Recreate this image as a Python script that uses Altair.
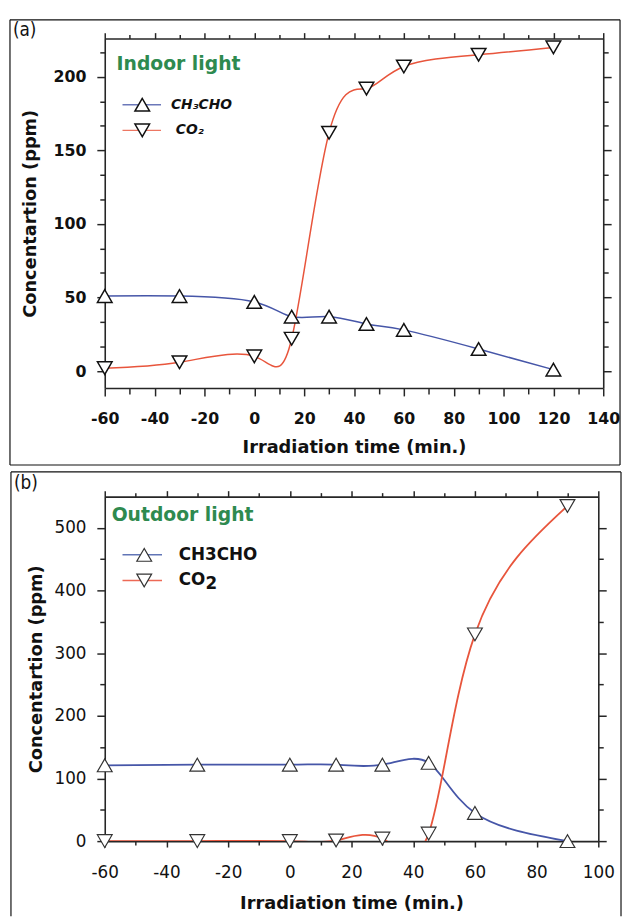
import altair as alt
import pandas as pd

# ---------------- data ----------------
series = ["CH3CHO", "CO2"]

# (a) Indoor light
t_a = [-60, -30, 0, 15, 30, 45, 60, 90, 120]
ch3cho_a = [51, 51, 47, 37, 37, 32, 28, 15, 1]
co2_a = [2, 6, 10, 22, 162, 192, 207, 215, 220]

# (b) Outdoor light
t_b = [-60, -30, 0, 15, 30, 45, 60, 90]
ch3cho_b = [121, 122, 122, 122, 122, 125, 45, 0]
co2_b = [0, 0, 0, 1, 4, 12, 330, 535]

# tick values
x_major_a = [-60, -40, -20, 0, 20, 40, 60, 80, 100, 120, 140]
x_minor_a = [-50, -30, -10, 10, 30, 50, 70, 90, 110, 130]
y_major_a = [0, 50, 100, 150, 200]
y_minor_a = [16.67, 33.33, 66.67, 83.33, 116.67, 133.33, 166.67, 183.33, 216.67]

x_major_b = [-60, -40, -20, 0, 20, 40, 60, 80, 100]
x_minor_b = [-50, -30, -10, 10, 30, 50, 70, 90]
y_major_b = [0, 100, 200, 300, 400, 500]
y_minor_b = [50, 150, 250, 350, 450]

FONT = "DejaVu Sans"
AX = "#262626"
GREEN = "#2e8a4f"


def make_panel(t, ch, co, P):
    df = pd.DataFrame({
        "t": t + t,
        "v": ch + co,
        "s": [series[0]] * len(t) + [series[1]] * len(t),
    })
    W, H = P["W"], P["H"]
    xs = alt.Scale(domain=P["xdom"], nice=False, zero=False)
    ys = alt.Scale(domain=P["ydom"], nice=False, zero=False)

    def X(axis):
        return alt.X("t:Q", scale=xs, axis=axis)

    def Y(axis):
        return alt.Y("v:Q", scale=ys, axis=axis)

    color = alt.Color("s:N", scale=alt.Scale(domain=series, range=P["colors"]), legend=None)
    shape = alt.Shape("s:N", scale=alt.Scale(domain=series, range=["triangle-up", "triangle-down"]), legend=None)

    common = dict(grid=False, domainColor=AX, domainWidth=1.6, tickColor=AX, tickWidth=1.5,
                  labelFont=FONT, labelColor="#111111", titleFont=FONT, titleColor="#111111",
                  labelOverlap=False, labelFlush=False)

    ax_bottom = alt.Axis(orient="bottom", values=P["xmaj"], labelExpr="'' + datum.value", tickSize=P["tick_x"],
                         labelFontSize=P["lfs"], labelFontWeight=P["lfw"], labelBaseline="alphabetic",
                         labelPadding=P["xlp"], title="Irradiation time (min.)", titleFontSize=18,
                         titleFontWeight="bold", titleX=W / 2, titleY=P["xty"], titleBaseline="alphabetic",
                         **common)
    ax_left = alt.Axis(orient="left", values=P["ymaj"], labelExpr="'' + datum.value", tickSize=8,
                       labelFontSize=P["lfs"], labelFontWeight=P["lfw"], labelPadding=11,
                       title="Concentartion (ppm)", titleFontSize=18, titleFontWeight="bold",
                       titleAngle=270, titleBaseline="middle", titleX=P["ytx"], titleY=H / 2,
                       **common)
    ax_bottom_minor = alt.Axis(orient="bottom", values=P["xmin"], labels=False, title=None,
                               tickSize=P["tick_x"] - 2, domain=False, **common)
    ax_left_minor = alt.Axis(orient="left", values=P["ymin"], labels=False, title=None,
                             tickSize=5, domain=False, **common)
    ax_top = alt.Axis(orient="top", values=P["xmaj"], labels=False, title=None, tickSize=6, **common)
    ax_top_minor = alt.Axis(orient="top", values=P["xmin"], labels=False, title=None, tickSize=4,
                            domain=False, **common)
    ax_right = alt.Axis(orient="right", values=P["ymaj"], labels=False, title=None, tickSize=8, **common)
    ax_right_minor = alt.Axis(orient="right", values=P["ymin"], labels=False, title=None, tickSize=5,
                              domain=False, **common)

    one = pd.DataFrame({"k": [0]})

    def rule(**enc):
        return alt.Chart(one).mark_rule(color="#111111", strokeWidth=1.2).encode(
            **{k: alt.value(v) for k, v in enc.items()})

    frame = [
        rule(x=P["fx0"], x2=P["fx1"], y=P["fy0"]),
        rule(x=P["fx0"], y=P["fy0"], y2=P["fy1"]),
        rule(x=P["fx1"], y=P["fy0"], y2=P["fy1"]),
    ]
    if P["fbottom"]:
        frame.append(rule(x=P["fx0"], x2=P["fx1"], y=P["fy1"]))

    panel_lab = alt.Chart(one).mark_text(text=P["tag"], align="left", baseline="middle",
                                         font="Liberation Sans Narrow, DejaVu Sans Condensed, sans-serif",
                                         fontSize=19, color="#111111").encode(
        x=alt.value(P["tag_x"]), y=alt.value(P["tag_y"]))

    lines = alt.Chart(df).mark_line(interpolate="natural", clip=True, strokeWidth=P["lw"]).encode(
        X(None), Y(None), color=color, detail="s:N")
    pts = alt.Chart(df).mark_point(filled=True, fill="white", stroke=P["mstroke"], strokeWidth=P["msw"],
                                   size=P["msize"], opacity=1).encode(X(None), Y(None), shape=shape)

    axes = [
        alt.Chart(df).mark_point(opacity=0).encode(X(ax_bottom), Y(ax_left)),
        alt.Chart(df).mark_point(opacity=0).encode(X(ax_bottom_minor), Y(ax_left_minor)),
        alt.Chart(df).mark_point(opacity=0).encode(X(ax_top), Y(ax_right)),
        alt.Chart(df).mark_point(opacity=0).encode(X(ax_top_minor), Y(ax_right_minor)),
    ]

    leg = [alt.Chart(one).mark_text(text=P["title"], align="left", baseline="alphabetic", font=FONT,
                                    fontSize=19, fontWeight="bold", color=GREEN).encode(
        x=alt.value(P["title_x"]), y=alt.value(P["title_y"]))]
    shapes = ["triangle-up", "triangle-down"]
    for i in range(2):
        ly = P["leg_y"][i]
        leg.append(alt.Chart(one).mark_rule(color=P["colors"][i], strokeWidth=1.5, opacity=0.8).encode(
            x=alt.value(P["leg_x0"]), x2=alt.value(P["leg_x1"]), y=alt.value(ly)))
        leg.append(alt.Chart(one).mark_point(shape=shapes[i], filled=True, fill="white",
                                             stroke=P["mstroke"], strokeWidth=P["msw"],
                                             size=P["msize"], opacity=1).encode(
            x=alt.value(P["leg_xm"]), y=alt.value(ly)))
        for (txt, dx, dy, fs) in P["leg_text"][i]:
            leg.append(alt.Chart(one).mark_text(text=txt, align="left", baseline="middle", font=FONT,
                                                fontSize=fs, fontWeight="bold",
                                                fontStyle=P["leg_style"], color="#111111").encode(
                x=alt.value(P["leg_tx"] + dx), y=alt.value(ly + dy)))

    layers = frame + [panel_lab, lines, pts] + axes + leg
    return alt.layer(*layers).resolve_axis(x="independent", y="independent").properties(width=W, height=H)


PA = dict(
    W=505, H=354, xdom=[-60, 140], ydom=[-11.5, 226],
    xmaj=x_major_a, xmin=x_minor_a, ymaj=y_major_a, ymin=y_minor_a,
    tick_x=8, lfs=16, lfw="bold", xlp=28, xty=65, ytx=-75,
    colors=["#4656a8", "#e8553c"], lw=1.5, mstroke="#111111", msw=1.5, msize=220,
    fx0=-96, fx1=522, fy0=-19, fy1=432, fbottom=True, tag="(a)", tag_x=-93, tag_y=-9,
    title="Indoor light", title_x=12, title_y=32,
    leg_y=[67, 93], leg_x0=18, leg_x1=57, leg_xm=38, leg_tx=67, leg_style="italic",
    leg_text=[[("CH\u2083CHO", 0, 0, 14)], [("CO\u2082", 5, 0, 14)]],
)

PB = dict(
    W=500, H=349, xdom=[-60, 100], ydom=[0, 550],
    xmaj=x_major_b, xmin=x_minor_b, ymaj=y_major_b, ymin=y_minor_b,
    tick_x=6, lfs=17, lfw="normal", xlp=31, xty=68, ytx=-69,
    colors=["#3a52a4", "#e8432c"], lw=1.8, mstroke="#333333", msw=1.2, msize=225,
    fx0=-95, fx1=523, fy0=-25, fy1=425, fbottom=False, tag="(b)", tag_x=-92, tag_y=-14,
    title="Outdoor light", title_x=7, title_y=25,
    leg_y=[59, 85], leg_x0=18, leg_x1=58, leg_xm=40, leg_tx=75, leg_style="normal",
    leg_text=[[("CH3CHO", 0, 0, 17)], [("CO", 0, 0, 17), ("2", 27, 4, 17)]],
)

pa = make_panel(t_a, ch3cho_a, co2_a, PA)
pb = make_panel(t_b, ch3cho_b, co2_b, PB)

chart = alt.vconcat(pa, pb, spacing=5).properties(
    padding={"left": 1, "top": 5, "right": 0, "bottom": 0}
).configure_view(strokeWidth=0)

chart.save("out.html", embed_options={"renderer": "svg", "actions": False})
